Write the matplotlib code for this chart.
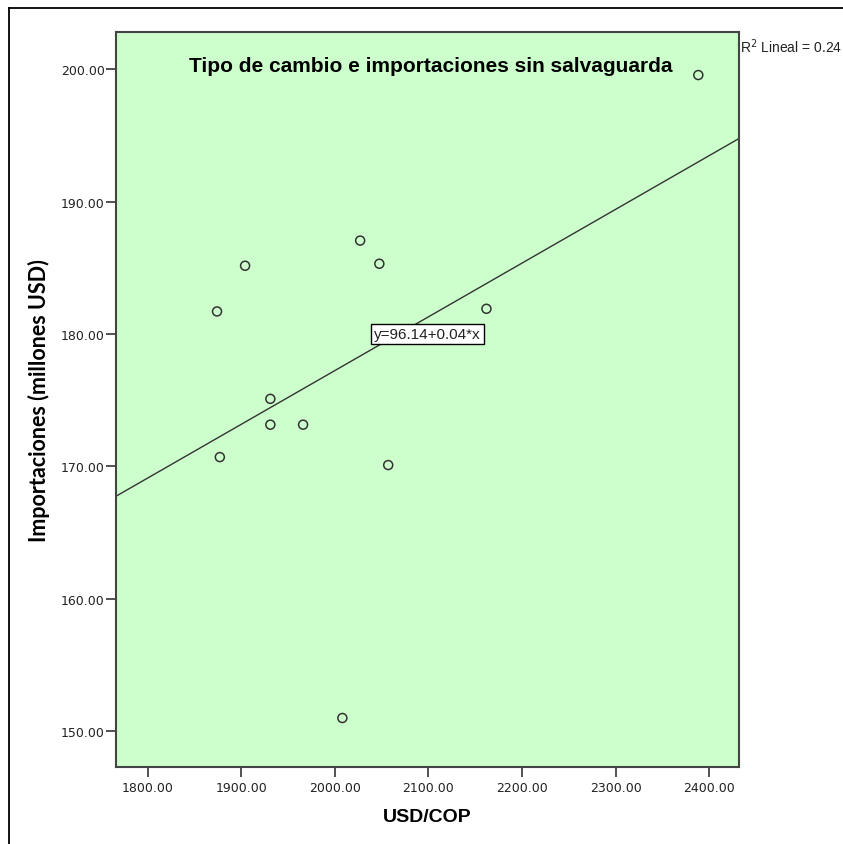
import numpy as np
import matplotlib.pyplot as plt
from matplotlib.lines import Line2D

plt.rcParams['font.family'] = ['Liberation Sans', 'DejaVu Sans']

# tipo de cambio USD/COP vs importaciones (millones USD)
usd_cop = [2388.5, 2027.0, 2047.5, 1904.0, 1874.0, 2162.0,
           1931.0, 1931.0, 1966.0, 1877.0, 2057.0, 2008.0]
importaciones = [199.55, 187.05, 185.3, 185.15, 181.7, 181.9,
                 175.1, 173.15, 173.15, 170.7, 170.1, 151.0]
x_ticks = [1800, 1900, 2000, 2100, 2200, 2300, 2400]
y_ticks = [150, 160, 170, 180, 190, 200]

W, H = 843, 845
fig = plt.figure(figsize=(W / 100, H / 100), dpi=100)
ax = fig.add_axes([116 / W, 1 - 768 / H, (739 - 116) / W, (768 - 33) / H])
ax.set_facecolor('#ccffcc')

# outer frame (only left and top edges visible)
fx, fy = 8.5 / W, 1 - 8.5 / H
fig.add_artist(Line2D([fx, fx], [0, fy], transform=fig.transFigure,
                      color='black', lw=1.3))
fig.add_artist(Line2D([fx, 1], [fy, fy], transform=fig.transFigure,
                      color='black', lw=1.3))

ax.scatter(usd_cop, importaciones, s=42, facecolors='none',
           edgecolors='#333333', linewidths=1.1, zorder=3)

xmin, xmax = 1766, 2432
slope, intercept = np.polyfit(usd_cop, importaciones, 1)
xs = np.array([xmin, xmax])
ax.plot(xs, intercept + slope * xs, color='#333333', lw=1.0, zorder=2)

ax.set_xlim(xmin, xmax)
ax.set_ylim(147.3, 202.8)
ax.set_xticks(x_ticks, [f'{v:.2f}' for v in x_ticks])
ax.set_yticks(y_ticks, [f'{v:.2f}' for v in y_ticks])
ax.tick_params(direction='out', length=7, width=1.2, color='#333333',
               labelsize=9, labelcolor='#222222')
ax.tick_params(axis='y', pad=1)
ax.tick_params(axis='x', pad=3)
for lab in ax.get_xticklabels() + ax.get_yticklabels():
    lab.set_family('DejaVu Sans')
for s in ax.spines.values():
    s.set_color('#444444')
    s.set_linewidth(1.5)

ax.set_xlabel('USD/COP', fontsize=14, fontweight='bold', labelpad=10)
ax.set_ylabel('Importaciones (millones USD)', fontsize=15.5,
              fontweight='bold', family='Lato', labelpad=8)

ax.text(0.505, 0.955, 'Tipo de cambio e importaciones sin salvaguarda',
        transform=ax.transAxes, ha='center', va='center',
        fontsize=15, fontweight='bold')

ax.text(2099, 180.0, 'y=96.14+0.04*x', ha='center', va='center',
        fontsize=11, color='#222222',
        bbox=dict(boxstyle='square,pad=0.2', fc='white', ec='black', lw=1))

fig.text(740 / W, 1 - 47 / H, r'R$^2$ Lineal = 0.24', ha='left',
         va='center', fontsize=10, color='#222222')

fig.savefig('out.png', dpi=100)
